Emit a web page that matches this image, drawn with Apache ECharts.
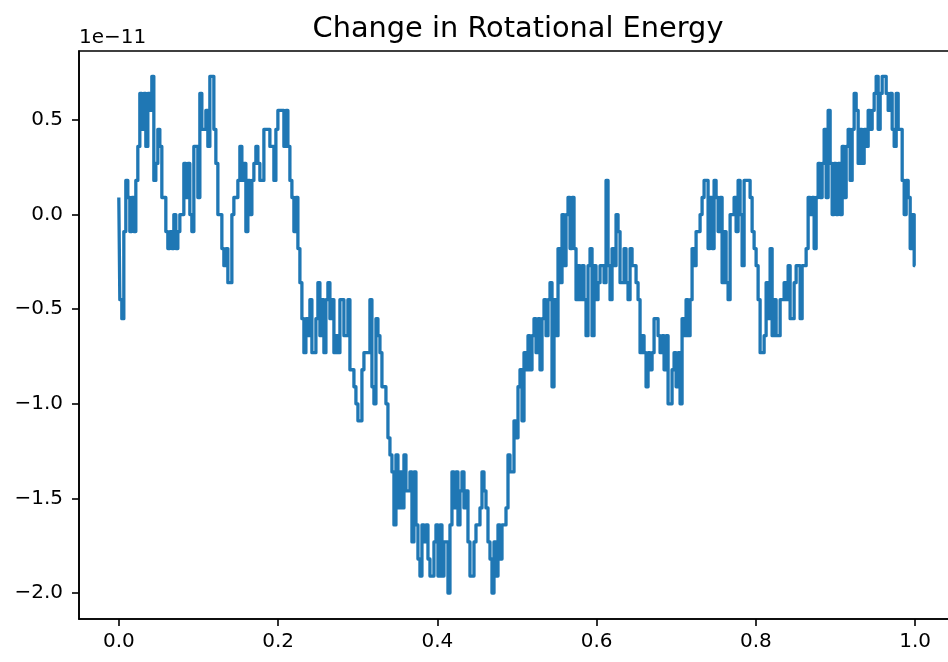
<!DOCTYPE html>
<html><head><meta charset="utf-8">
<script src="https://cdn.jsdelivr.net/npm/echarts@6.0.0/dist/echarts.min.js"></script>
<style>html,body{margin:0;padding:0;background:#fff;overflow:hidden}#chart{width:956px;height:662px}</style>
</head><body><div id="chart"></div>
<script>
// Values in units of 1e-11 (matplotlib offset text "1e−11")
const TITLE = 'Change in Rotational Energy';
const OFFSET_TEXT = '1e\u221211';
const xTicks = [0.0, 0.2, 0.4, 0.6, 0.8, 1.0];
const yTicks = [-2.0, -1.5, -1.0, -0.5, 0.0, 0.5];

const energyPart1 = [
  0.09,-0.45,-0.55,-0.09,0.18,0.09,-0.09,0.09,-0.09,0.18,
  0.36,0.64,0.45,0.64,0.36,0.64,0.55,0.73,0.18,0.27,
  0.45,0.36,0.09,0.09,-0.09,-0.18,-0.09,-0.18,0,-0.18,
  -0.09,0,0,0.27,0.09,0.27,0,-0.09,0.36,0.36,
  0.09,0.64,0.45,0.45,0.55,0.36,0.73,0.73,0.45,0.27,
  0,0,-0.18,-0.27,-0.18,-0.36,-0.36,0,0.09,0.09,
  0.18,0.36,0.18,0.27,-0.09,0.18,0,0.18,0.27,0.36,
  0.27,0.18,0.18,0.45,0.45,0.45,0.36,0.36,0.18,0.45,
  0.55,0.55,0.55,0.36,0.55,0.36,0.18,0.09,-0.09,0.09,
  -0.18,-0.36,-0.55,-0.73,-0.55,-0.64,-0.45,-0.73,-0.73,-0.55
];
const energyPart2 = [
  -0.36,-0.64,-0.45,-0.73,-0.45,-0.36,-0.55,-0.45,-0.73,-0.64,
  -0.73,-0.45,-0.45,-0.64,-0.64,-0.45,-0.82,-0.82,-0.91,-1.0,
  -1.09,-1.09,-0.82,-0.73,-0.73,-0.73,-0.45,-0.91,-1.0,-0.55,
  -0.64,-0.73,-0.91,-0.91,-1.0,-1.18,-1.27,-1.36,-1.64,-1.27,
  -1.55,-1.36,-1.55,-1.27,-1.46,-1.46,-1.36,-1.73,-1.36,-1.64,
  -1.82,-1.91,-1.64,-1.73,-1.64,-1.82,-1.91,-1.91,-1.73,-1.64,
  -1.91,-1.64,-1.91,-1.73,-1.73,-2.0,-1.64,-1.36,-1.55,-1.36,
  -1.64,-1.46,-1.36,-1.55,-1.46,-1.73,-1.91,-1.91,-1.73,-1.64,
  -1.64,-1.55,-1.36,-1.46,-1.55,-1.73,-1.82,-2.0,-1.73,-1.91,
  -1.64,-1.82,-1.64,-1.64,-1.55,-1.27,-1.36,-1.36,-1.09,-1.18
];
const energyPart3 = [
  -0.91,-0.82,-1.09,-0.73,-0.82,-0.64,-0.82,-0.64,-0.55,-0.73,
  -0.55,-0.82,-0.55,-0.45,-0.64,-0.45,-0.36,-0.91,-0.45,-0.64,
  -0.18,-0.36,0,-0.27,0,0.09,-0.18,0.09,-0.18,-0.45,
  -0.27,-0.45,-0.27,-0.45,-0.64,-0.27,-0.18,-0.64,-0.27,-0.45,
  -0.36,-0.27,-0.27,-0.36,0.18,-0.27,-0.45,-0.18,-0.27,0,
  -0.09,-0.36,-0.36,-0.18,-0.36,-0.45,-0.18,-0.27,-0.27,-0.36,
  -0.45,-0.73,-0.64,-0.73,-0.91,-0.73,-0.82,-0.73,-0.55,-0.55,
  -0.64,-0.73,-0.64,-0.82,-0.64,-1.0,-1.0,-0.82,-0.73,-0.91,
  -0.73,-1.0,-0.55,-0.64,-0.45,-0.64,-0.45,-0.18,-0.27,-0.09,
  -0.09,0,0.09,0.18,0.18,-0.18,0.09,-0.18,0.18,0.09
];
const energyPart4 = [
  -0.09,0.09,-0.36,-0.09,-0.36,-0.45,0,0,0.09,-0.09,
  0.18,0,-0.27,0.18,0.18,0.18,0.09,-0.09,-0.18,-0.27,
  -0.45,-0.73,-0.73,-0.64,-0.36,-0.55,-0.18,-0.64,-0.45,-0.64,
  -0.64,-0.45,-0.45,-0.36,-0.45,-0.27,-0.55,-0.55,-0.36,-0.27,
  -0.27,-0.55,-0.27,-0.27,-0.18,0.09,0,0.09,-0.18,0.09,
  0.27,0.09,0.27,0.45,0.09,0.55,0.27,0,0.27,0,
  0.27,0,0.36,0.09,0.36,0.45,0.18,0.45,0.64,0.55,
  0.27,0.45,0.27,0.45,0.36,0.55,0.45,0.55,0.64,0.73,
  0.45,0.64,0.73,0.73,0.64,0.55,0.64,0.45,0.36,0.64,
  0.45,0.45,0.18,0,0.18,0.09,-0.18,0,-0.27
];

const energy = energyPart1.concat(energyPart2, energyPart3, energyPart4);
// evenly sampled time grid from 0 to 1 (np.linspace style)
const SAMPLE_COUNT = energy.length;
const time = energy.map((_, i) => i / (SAMPLE_COUNT - 1));
const points = time.map((t, i) => [t, energy[i]]);

const FONT = 'DejaVu Sans';
const fmt = v => (Math.abs(v) < 1e-9 ? '0.0' : v.toFixed(1).replace('-', '\u2212'));

const chart = echarts.init(document.getElementById('chart'), null, {renderer: 'canvas'});
chart.setOption({
  animation: false,
  backgroundColor: '#fff',
  title: {
    text: TITLE,
    left: 518, top: 15, textAlign: 'center', padding: 0,
    textStyle: {fontFamily: FONT, fontSize: 28.8, fontWeight: 'normal', color: '#000'}
  },
  grid: {
    left: 79, right: 1, top: 51, bottom: 43,
    show: true, borderColor: '#000', borderWidth: 1.6, backgroundColor: 'transparent'
  },
  graphic: [{
    type: 'text', left: 79, top: 28,
    style: {text: OFFSET_TEXT, font: '20px "DejaVu Sans"', fill: '#000'}
  }],
  xAxis: {
    type: 'value', min: -0.05, max: 1.05,
    axisLine: {show: true, onZero: false, lineStyle: {color: '#000', width: 1.6}},
    axisTick: {show: true, length: 7, customValues: xTicks, lineStyle: {color: '#000', width: 1.6}},
    axisLabel: {customValues: xTicks, formatter: fmt, margin: 13, color: '#000', fontSize: 20, fontFamily: FONT},
    splitLine: {show: false}
  },
  yAxis: {
    type: 'value', min: -2.137, max: 0.864,
    axisLine: {show: true, onZero: false, lineStyle: {color: '#000', width: 1.6}},
    axisTick: {show: true, length: 7, customValues: yTicks, lineStyle: {color: '#000', width: 1.6}},
    axisLabel: {customValues: yTicks, formatter: fmt, margin: 16, color: '#000', fontSize: 20, fontFamily: FONT},
    splitLine: {show: false}
  },
  series: [{
    type: 'line', data: points, showSymbol: false, symbol: 'none', step: 'middle',
    lineStyle: {color: '#1f77b4', width: 3.3, join: 'round'},
    clip: true
  }]
});
</script></body></html>
